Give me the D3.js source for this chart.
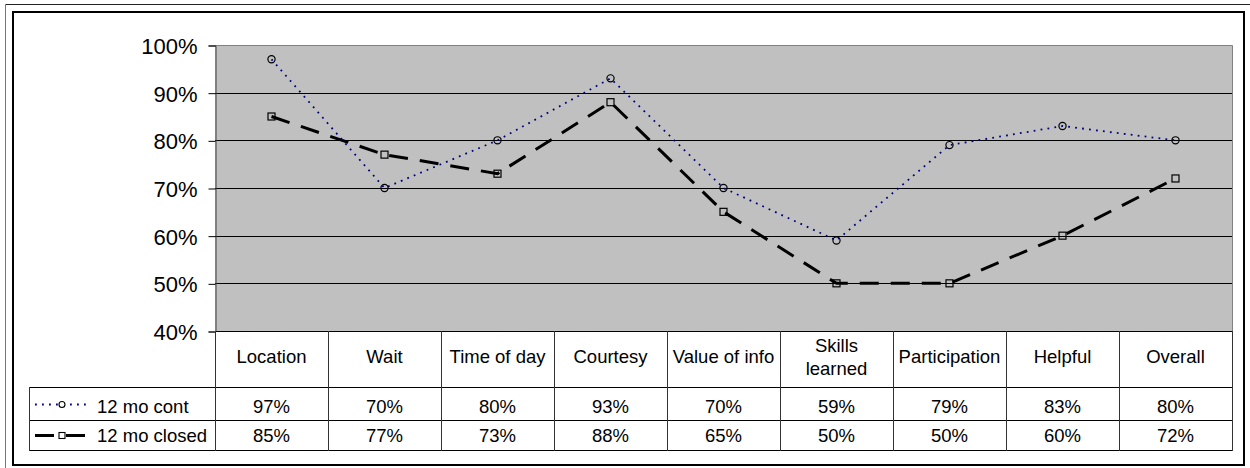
<!DOCTYPE html>
<html>
<head>
<meta charset="utf-8">
<script src="https://cdn.jsdelivr.net/npm/d3@7"></script>
<style>
  html, body { margin: 0; padding: 0; background: #fff; }
  svg { display: block; font-family: "Liberation Sans", Arial, sans-serif; }
</style>
</head>
<body>
<svg id="chart" width="1250" height="468"></svg>
<script>
// Survey categories and the two series (share of positive answers)
const categories = ["Location", "Wait", "Time of day", "Courtesy", "Value of info",
                    "Skills learned", "Participation", "Helpful", "Overall"];
const contValues   = [0.97, 0.70, 0.80, 0.93, 0.70, 0.59, 0.79, 0.83, 0.80];
const closedValues = [0.85, 0.77, 0.73, 0.88, 0.65, 0.50, 0.50, 0.60, 0.72];
const seriesNames  = ["12 mo cont", "12 mo closed"];
const yTicks = [0.4, 0.5, 0.6, 0.7, 0.8, 0.9, 1.0];

const svg = d3.select("#chart");
const pct = d3.format(".0%");

// layout
const plot = { left: 215, right: 1232, top: 45, bottom: 331 };
const table = { left: 29, headBottom: 387, row1Bottom: 420, row2Bottom: 450 };
const crisp = v => Math.round(v) + 0.5;

const x = d3.scaleBand().domain(categories).range([plot.left, plot.right]).paddingInner(0).paddingOuter(0);
const y = d3.scaleLinear().domain([0.4, 1.0]).range([plot.bottom, plot.top]);

// outer frames
svg.append("line").attr("x1", 5.5).attr("x2", 1250).attr("y1", 4.5).attr("y2", 4.5)
  .attr("stroke", "#222").attr("stroke-width", 1);
svg.append("line").attr("x1", 5.5).attr("x2", 5.5).attr("y1", 4.5).attr("y2", 468)
  .attr("stroke", "#777").attr("stroke-width", 1);
svg.append("rect").attr("x", 13).attr("y", 12).attr("width", 1231).attr("height", 453)
  .attr("fill", "none").attr("stroke", "#000").attr("stroke-width", 2);

// plot background
svg.append("rect")
  .attr("x", plot.left).attr("y", plot.top)
  .attr("width", plot.right - plot.left).attr("height", plot.bottom - plot.top)
  .attr("fill", "#c0c0c0");

// horizontal gridlines
svg.append("g").selectAll("line")
  .data(yTicks.filter(t => t > 0.4 && t < 1.0))
  .join("line")
  .attr("x1", plot.left).attr("x2", plot.right)
  .attr("y1", d => crisp(y(d))).attr("y2", d => crisp(y(d)))
  .attr("stroke", "#000").attr("stroke-width", 1);

// plot border (top/right grey)
svg.append("path")
  .attr("d", `M${plot.left},${crisp(plot.top)}H${crisp(plot.right)}V${plot.bottom}`)
  .attr("fill", "none").attr("stroke", "#808080").attr("stroke-width", 1);

// y axis
const yAxis = d3.axisLeft(y).tickValues(yTicks).tickFormat(pct).tickSize(7).tickPadding(11);
const yg = svg.append("g").attr("transform", `translate(${crisp(plot.left)},0.5)`).call(yAxis);
yg.select(".domain").attr("stroke", "#404040");
yg.selectAll(".tick line").attr("stroke", "#000");
yg.selectAll(".tick text")
  .attr("fill", "#000").attr("font-size", 22).attr("dy", "0.36em")
  .style("font-family", "'Liberation Sans', Arial, sans-serif");

// x axis baseline
svg.append("line")
  .attr("x1", plot.left).attr("x2", plot.right + 1)
  .attr("y1", crisp(plot.bottom)).attr("y2", crisp(plot.bottom))
  .attr("stroke", "#000");

// data table grid
const tg = svg.append("g");
[table.headBottom, table.row1Bottom, table.row2Bottom].forEach(yy => {
  tg.append("line").attr("x1", table.left).attr("x2", plot.right + 1)
    .attr("y1", crisp(yy)).attr("y2", crisp(yy)).attr("stroke", "#000");
});
tg.append("line").attr("x1", crisp(table.left)).attr("x2", crisp(table.left))
  .attr("y1", table.headBottom).attr("y2", table.row2Bottom + 1).attr("stroke", "#333");
const edges = categories.map(c => x(c)).concat([plot.right]);
tg.selectAll("line.col").data(edges).join("line").attr("class", "col")
  .attr("x1", d => crisp(d)).attr("x2", d => crisp(d))
  .attr("y1", plot.bottom).attr("y2", table.row2Bottom + 1)
  .attr("stroke", "#333");

// category header labels (wrapped when too wide for the cell)
const textFont = 18.5;
const heads = svg.append("g").attr("font-size", textFont).attr("text-anchor", "middle").attr("fill", "#000");
categories.forEach(c => {
  const cx = x(c) + x.bandwidth() / 2;
  const t = heads.append("text").attr("x", cx).attr("y", 363).text(c);
  const w = t.node().getComputedTextLength();
  if (w > x.bandwidth() - 8) {
    const words = c.split(" ");
    t.text(null);
    words.forEach((wd, i) => {
      t.append("tspan").attr("x", cx).attr("y", 352 + i * 22.5).text(wd);
    });
  }
});

// table values
const rows = [
  { values: contValues, baseline: 412.5 },
  { values: closedValues, baseline: 441.5 }
];
rows.forEach(r => {
  svg.append("g").attr("font-size", textFont).attr("text-anchor", "middle")
    .selectAll("text").data(r.values).join("text")
    .attr("x", (d, i) => x(categories[i]) + x.bandwidth() / 2)
    .attr("y", r.baseline)
    .text(d => pct(d));
});

// series lines
const line = d3.line()
  .x((d, i) => x(categories[i]) + x.bandwidth() / 2)
  .y(d => y(d));

const contStyle = { stroke: "#000080", width: 1.8, dash: "1.8,5.2" };
const closedStyle = { stroke: "#000", width: 3, dash: "19,12" };

svg.append("path").datum(closedValues)
  .attr("d", line).attr("fill", "none")
  .attr("stroke", closedStyle.stroke).attr("stroke-width", closedStyle.width)
  .attr("stroke-dasharray", closedStyle.dash);
svg.append("path").datum(contValues)
  .attr("d", line).attr("fill", "none")
  .attr("stroke", contStyle.stroke).attr("stroke-width", contStyle.width)
  .attr("stroke-dasharray", contStyle.dash);

// markers
svg.append("g").selectAll("rect").data(closedValues).join("rect")
  .attr("x", (d, i) => x(categories[i]) + x.bandwidth() / 2 - 3.5)
  .attr("y", d => y(d) - 3.5)
  .attr("width", 7).attr("height", 7)
  .attr("fill", "none").attr("stroke", "#000").attr("stroke-width", 1.2);
svg.append("g").selectAll("circle").data(contValues).join("circle")
  .attr("cx", (d, i) => x(categories[i]) + x.bandwidth() / 2)
  .attr("cy", d => y(d))
  .attr("r", 3.6)
  .attr("fill", "none").attr("stroke", "#000").attr("stroke-width", 1.2);

// legend keys inside the data table
const legend = svg.append("g");
const keyX1 = 35, keyX2 = 86, keyMid = 62;
// cont
legend.append("line").attr("x1", keyX1).attr("x2", keyX2).attr("y1", 404.5).attr("y2", 404.5)
  .attr("stroke", contStyle.stroke).attr("stroke-width", contStyle.width)
  .attr("stroke-dasharray", contStyle.dash);
legend.append("circle").attr("cx", keyMid).attr("cy", 404.5).attr("r", 3)
  .attr("fill", "#fff").attr("stroke", "#000").attr("stroke-width", 1.1);
legend.append("text").attr("x", 97).attr("y", 412.5).attr("font-size", textFont).text(seriesNames[0]);
// closed
legend.append("line").attr("x1", keyX1).attr("x2", keyX2).attr("y1", 435.5).attr("y2", 435.5)
  .attr("stroke", closedStyle.stroke).attr("stroke-width", closedStyle.width)
  .attr("stroke-dasharray", closedStyle.dash);
legend.append("rect").attr("x", keyMid - 3).attr("y", 432.5).attr("width", 6).attr("height", 6)
  .attr("fill", "#fff").attr("stroke", "#000").attr("stroke-width", 1.1);
legend.append("text").attr("x", 97).attr("y", 441.5).attr("font-size", textFont).text(seriesNames[1]);
</script>
</body>
</html>
